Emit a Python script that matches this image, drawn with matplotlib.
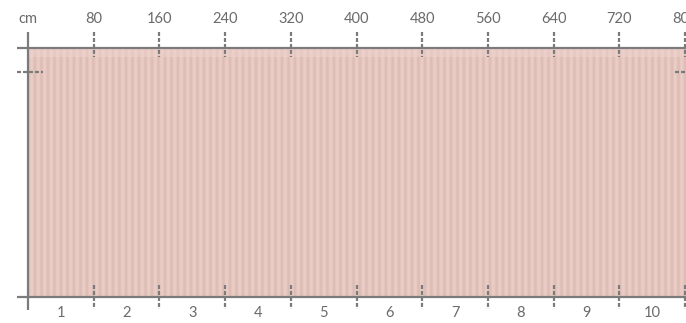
import matplotlib.pyplot as plt
import numpy as np

plt.rcParams["font.family"] = ["Lato", "DejaVu Sans"]
plt.rcParams["lines.scale_dashes"] = False

# ruler marks in cm along the top, panel numbers along the bottom
top_ticks = [80, 160, 240, 320, 400, 480, 560, 640, 720, 800]
panel_labels = ["1", "2", "3", "4", "5", "6", "7", "8", "9", "10"]
total_width = 800

W, H = 686, 323
X0, X1 = 28, 685  # pixel span of 0..800 cm
PX_PER_CM = (X1 - X0) / total_width

GRAY = "#7b7b7b"
TEXT = "#6a6a6a"
PINK = "#e9c9c2"
DASH = (0, (2.9, 1.4))

fig = plt.figure(figsize=(W / 100, H / 100), dpi=100)
ax = fig.add_axes([0, 0, 1, 1])
xmax = (W - X0) / PX_PER_CM
ax.set_xlim(-X0 / PX_PER_CM, xmax)
ax.set_ylim(H, 0)
ax.axis("off")

top_y, bot_y = 48, 297

# fabric panel with a faint knit look (vertical ribs)
ax.add_patch(plt.Rectangle((0, top_y), xmax, bot_y - top_y,
                           facecolor=PINK, edgecolor="none", zorder=1))
cols = np.arange(int(xmax * PX_PER_CM))
rib = 0.5 + 0.5 * np.cos(2 * np.pi * cols / 6.5)
ax.imshow(rib[np.newaxis, :], extent=(0, xmax, bot_y, top_y), aspect="auto",
          cmap="Greys", alpha=0.06, zorder=1.5, interpolation="bilinear")
ax.add_patch(plt.Rectangle((0, top_y + 1), xmax, 8,
                           facecolor="#eed3cd", edgecolor="none", alpha=0.5, zorder=1.6))

# frame lines
left_cm = -11 / PX_PER_CM
ax.hlines([top_y, bot_y], left_cm, xmax, color=GRAY, lw=1.6, zorder=3)
ax.vlines(0, 32, 310, color=GRAY, lw=1.6, zorder=3)

# dashed ticks
ax.vlines(top_ticks, 32, 57, color=GRAY, lw=1.6, linestyles=[DASH], zorder=3)
ax.vlines(top_ticks, 285, 309, color=GRAY, lw=1.6, linestyles=[DASH], zorder=3)

# height marker dashes
ax.hlines(72, left_cm, 15 / PX_PER_CM, color=GRAY, lw=1.6, linestyles=[DASH], zorder=3)
ax.hlines(72, 647 / PX_PER_CM, xmax, color=GRAY, lw=1.6, linestyles=[DASH], zorder=3)

# labels
ax.text(0, 19, "cm", ha="center", va="center", fontsize=10.5, color=TEXT)
for t in top_ticks:
    ax.text(t, 19, str(t), ha="center", va="center", fontsize=10.5, color=TEXT)

edges = [0] + top_ticks
for i, lab in enumerate(panel_labels):
    mid = (edges[i] + edges[i + 1]) / 2
    ax.text(mid, 313, lab, ha="center", va="center", fontsize=10.5, color=TEXT)

ax.set_xlim(-X0 / PX_PER_CM, xmax)
ax.set_ylim(H, 0)
fig.savefig("out.png", dpi=100)
